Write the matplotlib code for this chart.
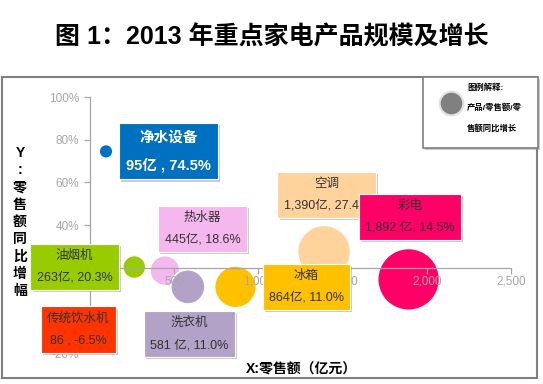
import matplotlib
matplotlib.use("Agg")
import matplotlib.pyplot as plt
import matplotlib.patheffects as pe
from matplotlib.patches import Rectangle
from matplotlib.lines import Line2D

plt.rcParams['font.family'] = ['Liberation Sans', 'Noto Sans CJK SC']

# Données : produit, ventes (亿元), croissance
produits = ['净水设备', '油烟机', '热水器', '洗衣机', '冰箱', '空调', '彩电', '传统饮水机']
ventes = [95, 263, 445, 581, 864, 1390, 1892, 86]
croissance = [0.745, 0.203, 0.186, 0.110, 0.110, 0.274, 0.145, -0.065]
etiquettes = ['95亿 , 74.5%', '263亿, 20.3%', '445亿, 18.6%', '581 亿, 11.0%',
              '864亿, 11.0%', '1,390亿, 27.4%', '1,892 亿, 14.5%', '86 , -6.5%']
couleurs = ['#0070C0', '#99CC00', '#F4B8EE', '#B3A2C7', '#FFC000', '#FFD39B', '#FF0066', '#FF3300']
decalages = [(45, 0), (-43, 0), (27, 30), (1, -34), (51, 0), (2, 41), (1, 45), (-19, -4)]

x_ticks = [0, 500, 1000, 1500, 2000, 2500]
x_labels = ['0', '500', '1,000', '1,500', '2,000', '2,500']
y_ticks = [-0.2, 0.0, 0.2, 0.4, 0.6, 0.8, 1.0]
y_labels = ['-20%', '0%', '20%', '40%', '60%', '80%', '100%']

gris = '#A6A6A6'

fig = plt.figure(figsize=(5.43, 3.84), dpi=100)
ax = fig.add_axes([90 / 543, 1 - 353 / 384, 421 / 543, 256 / 384])

# Bulles
ax.scatter(ventes, croissance, s=[v * 1.05 for v in ventes], c=couleurs,
           edgecolors='white', linewidths=1.2, zorder=1, clip_on=False)

ax.set_xlim(0, 2500)
ax.set_ylim(-0.2, 1.0)
ax.spines['top'].set_visible(False)
ax.spines['right'].set_visible(False)
ax.spines['bottom'].set_position(('data', 0.2))
for s in ['left', 'bottom']:
    ax.spines[s].set_color(gris)
    ax.spines[s].set_linewidth(0.9)
ax.set_xticks(x_ticks)
ax.set_xticklabels(x_labels)
ax.set_yticks(y_ticks)
ax.set_yticklabels(y_labels)
ax.tick_params(axis='both', colors=gris, labelsize=8.5, length=4, width=0.9)
ax.tick_params(axis='x', pad=2)
ax.tick_params(axis='y', pad=4)

# Etiquettes des bulles
for i, p in enumerate(produits):
    if i == 0:
        tc, fw, fs = 'white', 'bold', 10.5
    else:
        tc, fw, fs = '#333333', 'normal', 9
    t = ax.annotate(p + '\n' + etiquettes[i], (ventes[i], croissance[i]),
                    xytext=decalages[i], textcoords='offset points',
                    ha='center', va='center', fontsize=fs, fontweight=fw,
                    color=tc, linespacing=2.1, zorder=5, annotation_clip=False,
                    bbox=dict(boxstyle='square,pad=0.5', fc=couleurs[i],
                              ec='white', lw=0.8))
    t.get_bbox_patch().set_path_effects(
        [pe.SimplePatchShadow(offset=(1.5, -1.5), shadow_rgbFace='#999999', alpha=0.5),
         pe.Normal()])

# Titres des axes
fig.text(20 / 543, 1 - 222 / 384, 'Y\n:\n零\n售\n额\n同\n比\n增\n幅', ha='center', va='center',
         fontsize=10, fontweight='bold', linespacing=1.3)
fig.text(301 / 543, 1 - 370 / 384, 'X:零售额（亿元）', ha='center', va='center',
         fontsize=10, fontweight='bold')

# Titre
fig.text(0.5, 1 - 37 / 384, '图 1：2013 年重点家电产品规模及增长', ha='center', va='center',
         fontsize=18, fontweight='bold')

# Cadre
fig.patches.append(Rectangle((2 / 543, 1 - 378 / 384), 535 / 543, 301 / 384,
                             transform=fig.transFigure, fill=False, ec='#7F7F7F', lw=1.5))

# Légende
leg = Rectangle((423 / 543, 1 - 148 / 384), 115 / 543, 71 / 384, transform=fig.transFigure,
                fc='white', ec='#7F7F7F', lw=1.2, zorder=10)
leg.set_path_effects([pe.SimplePatchShadow(offset=(1.5, -1.5), shadow_rgbFace='#999999', alpha=0.5),
                      pe.Normal()])
fig.patches.append(leg)
fig.add_artist(Line2D([451 / 543], [1 - 103 / 384], marker='o', ms=17, mfc='#808080',
                      mec='#E0E0E0', mew=1.5, transform=fig.transFigure, zorder=11))
for txt, yy in [('图例解释:', 88), ('产品/零售额/零', 108), ('售额同比增长', 128)]:
    fig.text(467 / 543, 1 - yy / 384, txt, ha='left', va='center', fontsize=6,
             fontweight='bold', zorder=12)

fig.savefig('out.png', dpi=100)
